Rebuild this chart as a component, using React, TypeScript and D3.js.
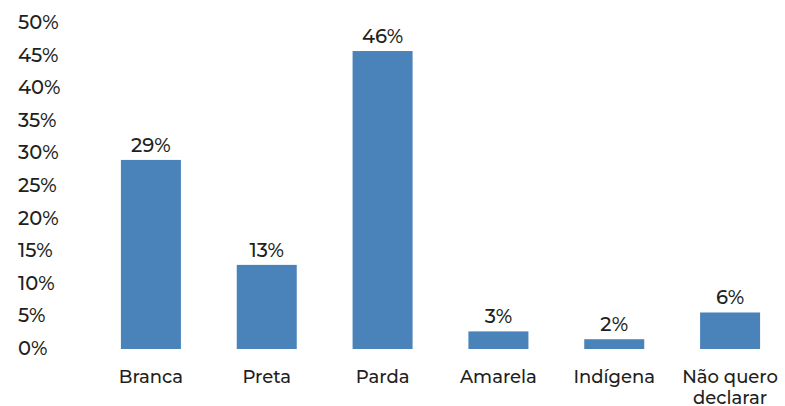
import React from 'react'
import * as d3 from 'd3'

const categories = ['Branca', 'Preta', 'Parda', 'Amarela', 'Indígena', 'Não quero declarar']
const values = [29, 12.9, 45.7, 2.7, 1.5, 5.6]
const yTicks = [0, 5, 10, 15, 20, 25, 30, 35, 40, 45, 50]

const width = 785
const height = 406
const font = 'Montserrat, "DejaVu Sans", Lato, sans-serif'
const ink = '#231f20'

export default function App () {
  const x = d3.scaleBand<string>()
    .domain(categories)
    .range([93, 788])
    .paddingInner(0.482)
    .paddingOuter(0.241)

  const y = d3.scaleLinear()
    .domain([0, 50])
    .range([349, 23])

  // split long category names onto two lines
  const lines = (c: string) => c === 'Não quero declarar' ? ['Não quero', 'declarar'] : [c]

  return (
    <svg width={width} height={height} style={{ position: 'absolute', left: 0, top: 0, background: '#fff' }}
      fontFamily={font} fontWeight={500}>
      {/* y axis labels */}
      {yTicks.map(t => (
        <text key={t} x={18} y={y(t) + 6} fontSize={19.5} fill={ink}>{t}%</text>
      ))}

      {categories.map((c, i) => {
        const bx = x(c) as number
        const bw = x.bandwidth()
        const cx = bx + bw / 2
        return (
          <g key={c}>
            <rect x={bx} y={y(values[i])} width={bw} height={y(0) - y(values[i])} fill='#4a83b9' />
            <text x={cx} y={y(values[i]) - 8} textAnchor='middle' fontSize={19.5} fill={ink}>
              {Math.round(values[i])}%
            </text>
            {lines(c).map((l, j) => (
              <text key={l} x={cx} y={383 + j * 21} textAnchor='middle' fontSize={18} fill={ink}>{l}</text>
            ))}
          </g>
        )
      })}
    </svg>
  )
}
